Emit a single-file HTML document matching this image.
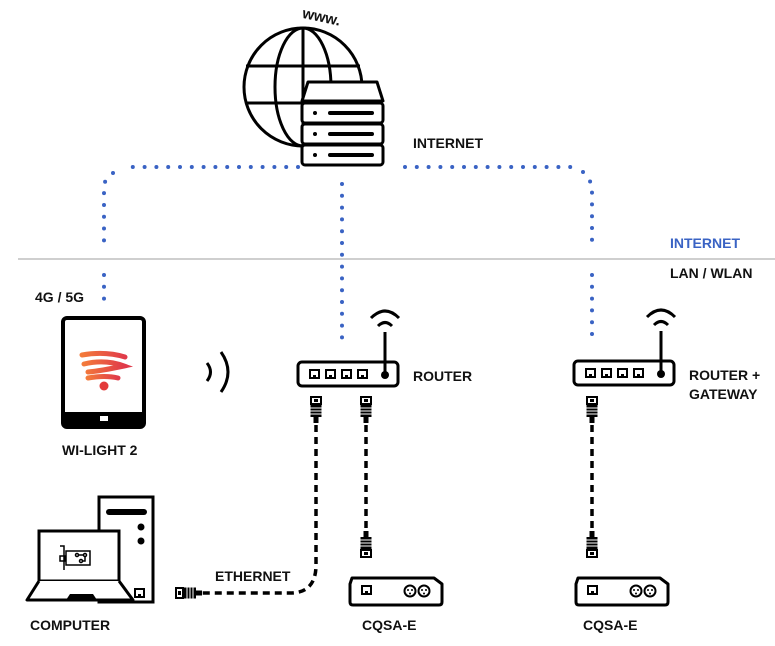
<!DOCTYPE html>
<html><head><meta charset="utf-8"><style>
html,body{margin:0;padding:0;background:#fff}
svg{display:block}
text{font-family:"Liberation Sans",Arial,sans-serif;font-weight:bold;font-size:14px;fill:#111}
</style></head><body>
<svg width="775" height="646" viewBox="0 0 775 646" xmlns="http://www.w3.org/2000/svg">
<defs>
<g id="plugd">
 <rect x="-5" y="0" width="10" height="7" fill="none" stroke="#000" stroke-width="2"/>
 <rect x="-2" y="2" width="4" height="3" fill="#000"/>
 <rect x="-5.5" y="7" width="11" height="13" fill="#000"/>
 <line x1="-5.5" y1="11" x2="5.5" y2="11" stroke="#fff" stroke-width="1"/>
 <line x1="-5.5" y1="14" x2="5.5" y2="14" stroke="#fff" stroke-width="1"/>
 <line x1="-5.5" y1="17" x2="5.5" y2="17" stroke="#fff" stroke-width="1"/>
 <rect x="-2.5" y="20" width="5" height="6" fill="#000"/>
</g>
<g id="plugu"><use href="#plugd" transform="scale(1,-1)"/></g>
<g id="port"><rect x="0" y="0" width="9" height="8" fill="none" stroke="#000" stroke-width="2"/><rect x="3" y="5" width="3" height="2" fill="#000"/></g>
<g id="cqsa">
 <path d="M2 0 L84 0 L92 6 L92 24 Q92 27 89 27 L3 27 Q0 27 0 24 L0 6 Z" fill="none" stroke="#000" stroke-width="3" stroke-linejoin="round"/>
 <use href="#port" x="12" y="8"/>
 <circle cx="60" cy="13" r="5.5" fill="none" stroke="#000" stroke-width="2"/>
 <circle cx="74" cy="13" r="5.5" fill="none" stroke="#000" stroke-width="2"/>
 <circle cx="58" cy="12" r="1" fill="#000"/><circle cx="62" cy="12" r="1" fill="#000"/><circle cx="60" cy="15.5" r="1" fill="#000"/>
 <circle cx="72" cy="12" r="1" fill="#000"/><circle cx="76" cy="12" r="1" fill="#000"/><circle cx="74" cy="15.5" r="1" fill="#000"/>
</g>
<g id="router">
 <rect x="0" y="0" width="100" height="24" rx="4" fill="none" stroke="#000" stroke-width="3"/>
 <use href="#port" x="12" y="8"/><use href="#port" x="28" y="8"/><use href="#port" x="44" y="8"/><use href="#port" x="60" y="8"/>
 <circle cx="87" cy="13" r="4" fill="#000"/>
 <line x1="87" y1="13" x2="87" y2="-30" stroke="#000" stroke-width="3"/>
 <path d="M80 -36 Q87 -43 94 -36" fill="none" stroke="#000" stroke-width="3"/>
 <path d="M73 -44 Q87 -58 101 -44" fill="none" stroke="#000" stroke-width="3"/>
</g>
</defs>

<line x1="18" y1="259" x2="775" y2="259" stroke="#cfcfcf" stroke-width="2"/>

<g fill="none" stroke="#3a63c4" stroke-width="4" stroke-linecap="round" stroke-dasharray="0 11.8">
 <path d="M298 167 L126 167"/>
 <path d="M113 173 L104 183 L104 245"/>
 <path d="M104 275 L104 299"/>
 <path d="M342 184 L342 342"/>
 <path d="M405 167 L572 167"/>
 <path d="M583 172 L592 184 L592 245"/>
 <path d="M592 275 L592 345"/>
</g>

<!-- globe -->
<g fill="none" stroke="#000" stroke-width="3">
 <circle cx="303" cy="87" r="59"/>
 <ellipse cx="303" cy="87" rx="28" ry="59"/>
 <line x1="303" y1="28" x2="303" y2="146"/>
 <line x1="246" y1="66" x2="360" y2="66"/>
 <line x1="246" y1="103" x2="360" y2="103"/>
</g>
<g>
 <path d="M308 82 L377 82 L383 101 L302 101 Z" fill="#fff" stroke="#000" stroke-width="3" stroke-linejoin="round"/>
 <rect x="302" y="103" width="81" height="20" rx="3" fill="#fff" stroke="#000" stroke-width="3"/>
 <rect x="302" y="124" width="81" height="20" rx="3" fill="#fff" stroke="#000" stroke-width="3"/>
 <rect x="302" y="145" width="81" height="20" rx="3" fill="#fff" stroke="#000" stroke-width="3"/>
 <circle cx="315" cy="113" r="2" fill="#000"/><circle cx="315" cy="134" r="2" fill="#000"/><circle cx="315" cy="155" r="2" fill="#000"/>
 <line x1="330" y1="113" x2="372" y2="113" stroke="#000" stroke-width="4" stroke-linecap="round"/>
 <line x1="330" y1="134" x2="372" y2="134" stroke="#000" stroke-width="4" stroke-linecap="round"/>
 <line x1="330" y1="155" x2="372" y2="155" stroke="#000" stroke-width="4" stroke-linecap="round"/>
</g>
<text x="302" y="22" transform="rotate(12 322 18)" style="font-size:15px">www.</text>

<text x="413" y="148">INTERNET</text>
<text x="670" y="248" style="fill:#3a63c4">INTERNET</text>
<text x="670" y="278">LAN / WLAN</text>
<text x="35" y="302">4G / 5G</text>

<rect x="63" y="318" width="81" height="109" rx="4" fill="none" stroke="#000" stroke-width="4"/>
<rect x="63" y="412" width="81" height="15" fill="#000"/>
<rect x="100" y="416" width="8" height="5" fill="#fff"/>
<defs><linearGradient id="wg" x1="0" x2="1"><stop offset="0" stop-color="#f37a3a"/><stop offset="1" stop-color="#e03a4a"/></linearGradient></defs>
<g fill="none" stroke="url(#wg)" stroke-width="5" stroke-linecap="round">
 <path d="M82 355 Q105 351 125 357"/>
 <path d="M84 364 Q105 359 124 366 Q100 371 88 372"/>
 <path d="M88 378 Q105 375 118 378"/>
</g>
<circle cx="104" cy="386" r="4.5" fill="#e33a3a"/>
<text x="62" y="455">WI-LIGHT 2</text>

<path d="M207 363 Q214 372 207 381" fill="none" stroke="#000" stroke-width="3"/>
<path d="M221 352 Q235 372 221 392" fill="none" stroke="#000" stroke-width="3"/>

<use href="#router" x="298" y="362"/>
<text x="413" y="381">ROUTER</text>
<use href="#router" x="574" y="361"/>
<text x="689" y="380">ROUTER +</text>
<text x="689" y="399">GATEWAY</text>

<g fill="none" stroke="#000" stroke-width="3.5" stroke-dasharray="7 5">
 <path d="M316 425 L316 565 Q316 593 290 593 L200 593"/>
 <path d="M366 425 L366 530"/>
 <path d="M592 425 L592 530"/>
</g>
<use href="#plugd" x="316" y="397"/>
<use href="#plugd" x="366" y="397"/>
<use href="#plugd" x="592" y="397"/>
<use href="#plugu" x="366" y="557"/>
<use href="#plugu" x="592" y="557"/>
<g transform="translate(176 593) rotate(-90)"><use href="#plugd"/></g>
<text x="215" y="581">ETHERNET</text>

<use href="#cqsa" x="350" y="578"/>
<use href="#cqsa" x="576" y="578"/>
<text x="362" y="630">CQSA-E</text>
<text x="583" y="630">CQSA-E</text>

<rect x="99" y="497" width="54" height="105" fill="#fff" stroke="#000" stroke-width="3"/>
<line x1="109" y1="512" x2="144" y2="512" stroke="#000" stroke-width="6" stroke-linecap="round"/>
<circle cx="141" cy="527" r="3.5" fill="#000"/><circle cx="141" cy="541" r="3.5" fill="#000"/>
<use href="#port" x="135" y="589"/>
<rect x="39" y="531" width="80" height="50" fill="#fff" stroke="#000" stroke-width="3"/>
<path d="M39 581 L27 600 L133 600 L119 581" fill="#fff" stroke="#000" stroke-width="3" stroke-linejoin="round"/>
<path d="M66 600 L70 594 L93 594 L97 600 Z" fill="#000"/>
<g fill="none" stroke="#000" stroke-width="1.5">
 <path d="M60 546 L64 546 L64 570"/>
 <rect x="66" y="551" width="24" height="14"/>
 <rect x="60" y="556" width="5" height="5"/>
 <circle cx="77" cy="555" r="1.5"/><circle cx="85" cy="555" r="1.5"/><circle cx="81" cy="561" r="1.5"/>
 <path d="M79 555 L83 555 M85 557 L85 561 L83 561"/>
</g>
<text x="30" y="630">COMPUTER</text>
</svg>
</body></html>
